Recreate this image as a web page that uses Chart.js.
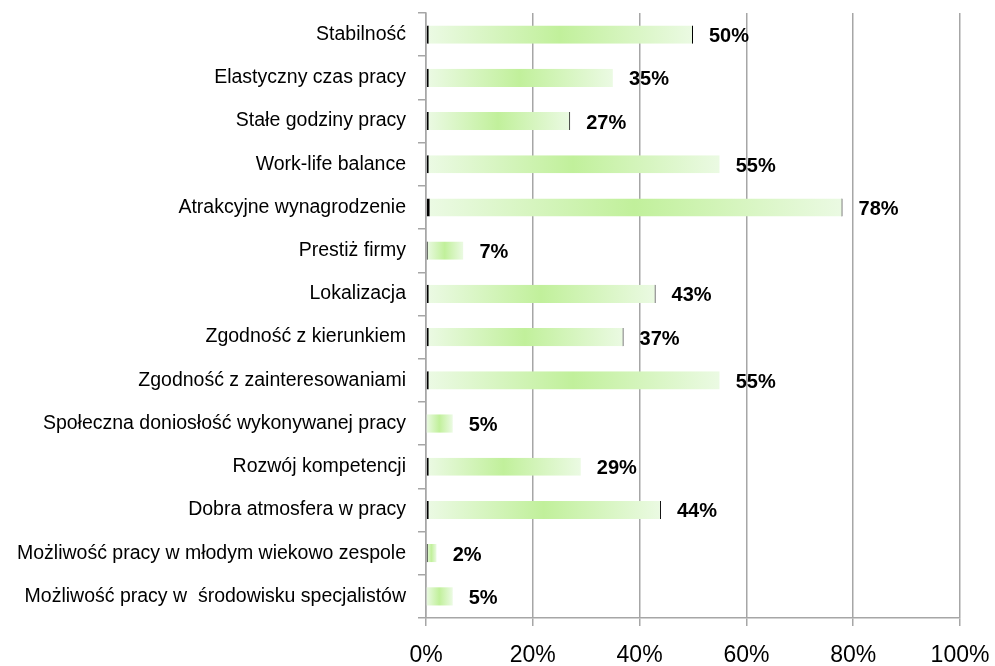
<!DOCTYPE html>
<html lang="pl">
<head>
<meta charset="utf-8">
<script src="https://cdn.jsdelivr.net/npm/chart.js@4"></script>
<style>
  html, body { margin: 0; padding: 0; background: #fff; }
  #wrap { width: 995px; height: 666px; }
</style>
</head>
<body>
<div id="wrap"><canvas id="chart" width="995" height="666"></canvas></div>
<script>
const categories = [
  "Stabilność",
  "Elastyczny czas pracy",
  "Stałe godziny pracy",
  "Work-life balance",
  "Atrakcyjne wynagrodzenie",
  "Prestiż firmy",
  "Lokalizacja",
  "Zgodność z kierunkiem",
  "Zgodność z zainteresowaniami",
  "Społeczna doniosłość wykonywanej pracy",
  "Rozwój kompetencji",
  "Dobra atmosfera w pracy",
  "Możliwość pracy w młodym wiekowo zespole",
  "Możliwość pracy w  środowisku specjalistów",
];
const values = [50, 35, 27, 55, 78, 7, 43, 37, 55, 5, 29, 44, 2, 5];
const xTicks = [0, 20, 40, 60, 80, 100];

// dark edges at the ends of the bars
const edgeLeft = [2, 2, 2, 2, 3, 1, 2, 2, 2, 0, 2, 2, 1, 0];
const edgeRight = [1, 0, 1, 0, 1, 0, 1, 1, 0, 0, 0, 1, 0, 0];

const gridColor = "#a6a6a6";
const labelFont = "'Liberation Sans', Arial, sans-serif";

function barGradient(context) {
  const chart = context.chart;
  const xs = chart.scales.x;
  if (!xs) return "#d4f5bf";
  const v = context.raw;
  const x0 = xs.getPixelForValue(0);
  const x1 = xs.getPixelForValue(v);
  if (!isFinite(x0) || !isFinite(x1) || x1 <= x0) return "#d4f5bf";
  const g = chart.ctx.createLinearGradient(x0, 0, x1, 0);
  g.addColorStop(0, "#ecfae5");
  g.addColorStop(0.5, "#c1f09b");
  g.addColorStop(1, "#ebfae3");
  return g;
}

// percentage labels to the right of each bar
const valueLabels = {
  id: "valueLabels",
  afterDatasetsDraw(chart) {
    const ctx = chart.ctx;
    const meta = chart.getDatasetMeta(0);
    ctx.save();
    ctx.font = "bold 20px " + labelFont;
    ctx.fillStyle = "#000";
    ctx.textAlign = "left";
    ctx.textBaseline = "middle";
    meta.data.forEach((bar, i) => {
      ctx.fillText(values[i] + "%", bar.x + 16, bar.y + 2);
    });
    ctx.restore();
  },
};

new Chart(document.getElementById("chart"), {
  type: "bar",
  data: {
    labels: categories,
    datasets: [
      {
        data: values,
        backgroundColor: barGradient,
        borderColor: "#000",
        borderSkipped: false,
        borderWidth: (c) => ({
          left: edgeLeft[c.dataIndex],
          right: edgeRight[c.dataIndex],
          top: 0,
          bottom: 0,
        }),
        categoryPercentage: 1,
        barPercentage: 0.42,
      },
    ],
  },
  options: {
    indexAxis: "y",
    responsive: false,
    animation: false,
    layout: { padding: { top: 13, right: 35, left: 0, bottom: 0 } },
    plugins: {
      legend: { display: false },
      tooltip: { enabled: false },
    },
    scales: {
      x: {
        min: 0,
        max: 100,
        afterBuildTicks(scale) {
          scale.ticks = xTicks.map((v) => ({ value: v }));
        },
        afterFit(scale) {
          scale.height = 48;
          scale.paddingLeft = 0;
          scale.paddingRight = 0;
        },
        ticks: {
          callback: (v) => v + "%",
          color: "#000",
          font: { family: labelFont, size: 23 },
          padding: 16,
          maxRotation: 0,
        },
        grid: {
          color: gridColor,
          lineWidth: 1.5,
          tickLength: 8,
        },
        border: { color: gridColor, width: 1.5 },
      },
      y: {
        afterFit(scale) {
          scale.width = 426;
          scale.paddingTop = 0;
          scale.paddingBottom = 0;
        },
        ticks: {
          color: "#000",
          font: { family: labelFont, size: 19.5 },
          padding: 12,
          autoSkip: false,
        },
        grid: {
          drawOnChartArea: false,
          color: gridColor,
          lineWidth: 1.5,
          tickLength: 8,
        },
        border: { color: gridColor, width: 1.5 },
      },
    },
  },
  plugins: [valueLabels],
});
</script>
</body>
</html>
